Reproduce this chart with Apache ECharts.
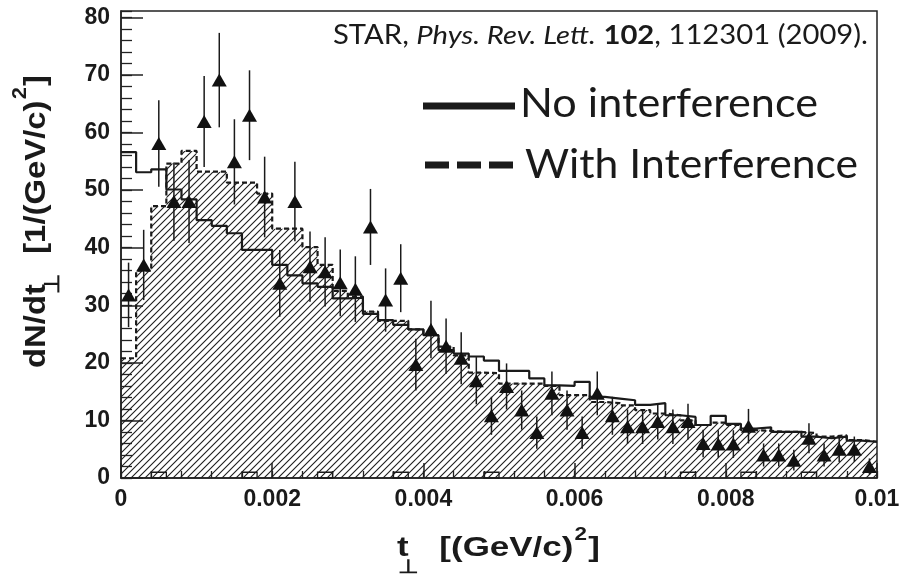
<!DOCTYPE html>
<html><head><meta charset="utf-8">
<script src="https://cdn.jsdelivr.net/npm/echarts@6/dist/echarts.min.js"></script>
<style>html,body{margin:0;padding:0;background:#fff}#c{width:905px;height:581px}</style>
</head><body><div id="c"></div>
<script>
// ---- data (t_perp bins of width 0.0002 from 0 to 0.01) ----
const nBins = 50;
const binWidth = 0.0002;
const binEdges = Array.from({length: nBins + 1}, (_, i) => +(i * binWidth).toFixed(4));
const binCenters = Array.from({length: nBins}, (_, i) => +((i + 0.5) * binWidth).toFixed(5));

const noInterference = [
  56.6, 53.1, 53.6, 50.1, 48.4, 44.8, 43.8, 42.5, 39.6, 39.6,
  37.0, 35.2, 33.8, 33.2, 31.2, 31.3, 28.5, 27.4, 26.6, 25.8,
  24.8, 22.2, 21.6, 21.1, 20.4, 18.6, 18.6, 17.3, 16.1, 16.0,
  16.7, 14.1, 13.8, 13.5, 12.7, 13.0, 10.9, 10.6, 9.2, 10.8,
  9.4, 8.6, 8.8, 8.0, 8.0, 7.2, 6.9, 7.2, 6.5, 6.3
];
const withInterference = [
  20.8, 36.0, 47.2, 54.6, 56.8, 53.2, 53.2, 51.3, 51.3, 49.4,
  43.3, 43.3, 40.1, 37.0, 32.5, 31.5, 28.9, 27.3, 27.3, 25.8,
  24.8, 22.8, 21.3, 18.3, 18.2, 16.4, 16.4, 16.4, 16.0, 14.4,
  14.4, 13.2, 13.0, 12.6, 11.8, 11.2, 10.9, 10.0, 9.2, 9.6,
  9.2, 8.3, 8.2, 8.0, 8.0, 7.8, 7.2, 7.4, 6.6, 6.3
];
const dataValues = [
  31.8, 37.0, 58.1, 48.0, 48.0, 61.9, 69.1, 54.9, 63.0, 48.8,
  33.8, 48.0, 36.7, 35.8, 33.9, 32.8, 43.6, 30.9, 34.7, 19.7,
  25.8, 22.9, 20.8, 16.9, 10.8, 15.9, 11.8, 7.9, 14.7, 11.8,
  7.9, 14.7, 10.8, 8.9, 8.9, 9.8, 8.9, 9.8, 6.0, 5.9,
  5.9, 9.0, 4.0, 4.0, 3.1, 6.9, 4.0, 5.0, 5.0, 2.0
];
const dataErrors = [
  5.6, 6.1, 7.5, 6.8, 7.2, 7.9, 8.2, 7.4, 7.8, 7.0,
  5.8, 6.9, 6.1, 6.0, 5.8, 5.7, 6.6, 5.5, 5.9, 4.5,
  5.0, 4.8, 4.5, 4.1, 3.3, 4.0, 3.4, 2.8, 3.8, 3.4,
  2.8, 3.8, 3.3, 3.0, 3.0, 3.1, 3.0, 3.1, 2.4, 2.4,
  2.4, 3.0, 2.0, 2.0, 1.8, 2.6, 2.0, 2.2, 2.2, 1.4
];
const background = [
  0, 0, 1, 0, 0, 0, 0, 0, 1, 0,
  0, 0, 0, 1, 0, 0, 0, 0, 1, 0,
  0, 0, 0, 0, 1, 0, 0, 0, 0, 0,
  0, 0, 0, 0, 0, 0, 0, 1, 0, 0,
  0, 1, 0, 0, 0, 1, 0, 0, 0, 0
];
const xTickInterval = 0.002, xMinorInterval = 0.0004;
const yTickInterval = 10, yMinorInterval = 2;
const legendNames = ['No interference', 'With Interference'];
const citation = ['STAR, ', 'Phys. Rev. Lett.', ' ', '102', ', 112301 (2009).'];

// ---- helpers ----
const mctx = document.createElement('canvas').getContext('2d');
function mw(text, font) { mctx.font = font; return mctx.measureText(text).width; }
function stepData(vals) {
  const d = vals.map((v, i) => [binEdges[i], v]);
  d.push([binEdges[nBins], vals[nBins - 1]]);
  return d;
}
function makeHatch() {
  const s = 7, c = document.createElement('canvas');
  c.width = s; c.height = s;
  const g = c.getContext('2d');
  g.strokeStyle = '#1e1e1e'; g.lineWidth = 1.1;
  g.beginPath();
  g.moveTo(-1, s + 1); g.lineTo(s + 1, -1);
  g.moveTo(-1, 1); g.lineTo(1, -1);
  g.moveTo(s - 1, s + 1); g.lineTo(s + 1, s - 1);
  g.stroke();
  return c;
}

const INK = '#1a1a1a';
const AXF = '"Liberation Sans", Arial, sans-serif';
const CAL = 'Lato, "Open Sans", sans-serif';

// ---- titles (rich layout, measured) ----
function titleGroup(opts) {
  const {main1, main2, end, F, SF, PF, subDy, supDy, gap, target, x, y, rotation, sy, subUnder} = opts;
  const TF = `bold ${F}px ${AXF}`, SFF = `bold ${SF}px ${AXF}`, PFF = `bold ${PF}px ${AXF}`;
  const w1 = mw(main1, TF), wt = mw('t', TF), wsub = mw('\u22A5', SFF);
  const subX = w1 - wt * subUnder;
  const bX = Math.max(w1, subX + wsub) + gap;
  const wB = mw(main2, TF);
  const supX = bX + wB + 1;
  const wsup = mw('2', PFF);
  const cX = supX + wsup + 1;
  const L = cX + mw(end, TF);
  const s = target / L;
  const mk = (t, xx, yy, font) => ({type: 'text', x: xx, y: yy,
    style: {text: t, font: font, fill: INK, align: 'left', verticalAlign: 'middle'}});
  return {type: 'group', x: x, y: y, rotation: rotation, scaleX: s, scaleY: sy, children: [
    mk(main1, 0, 0, TF), mk('\u22A5', subX, subDy, SFF), mk(main2, bX, 0, TF),
    mk('2', supX, supDy, PFF), mk(end, cX, 0, TF)
  ]};
}

const yTitle = titleGroup({main1: 'dN/dt', main2: '[1/(GeV/c)', end: ']', F: 27, SF: 19, PF: 18,
  subDy: 15, supDy: -15, gap: 16, target: 293, x: 37, y: 368, rotation: Math.PI / 2, sy: 1.1, subUnder: 0.9});
const xTitle = titleGroup({main1: 't', main2: '[(GeV/c)', end: ']', F: 28, SF: 19, PF: 18,
  subDy: 20, supDy: -13, gap: 16, target: 203, x: 397, y: 548, rotation: 0, sy: 1.0, subUnder: 0.9});

// citation
const citeF = 26;
const cf = [`${citeF}px ${CAL}`, `italic ${citeF}px ${CAL}`, `${citeF}px ${CAL}`, `bold ${citeF}px ${CAL}`, `${citeF}px ${CAL}`];
let citeW = 0; citation.forEach((t, i) => citeW += mw(t, cf[i]));
const citeScale = 535 / citeW;

// legend texts
const legF = 41;
const legFont = `${legF}px ${CAL}`;
const leg1Scale = 298 / mw(legendNames[0], legFont);
const leg2Scale = 333 / mw(legendNames[1], legFont);

const chart = echarts.init(document.getElementById('c'), null, {renderer: 'canvas'});
const hatch = makeHatch();

chart.setOption({
  animation: false,
  backgroundColor: '#fff',
  grid: {left: 121, right: 28, top: 11, bottom: 103, show: true, borderColor: '#222', borderWidth: 1.5,
    backgroundColor: 'transparent', outerBoundsMode: 'none'},
  xAxis: [{
    type: 'value', min: 0, max: 0.01, interval: xTickInterval, position: 'bottom',
    axisLine: {show: true, lineStyle: {color: '#222', width: 1.5}},
    axisTick: {show: true, inside: true, length: 15, lineStyle: {color: '#222', width: 1.5}},
    splitLine: {show: false},
    axisLabel: {show: true, margin: 10, color: INK, fontSize: 23, fontWeight: 'bold', fontFamily: AXF,
      formatter: v => (v === 0 ? '0' : String(+v.toFixed(4)))}
  }, {
    type: 'value', min: 0, max: 0.01, interval: xMinorInterval, position: 'bottom', offset: 0,
    axisLine: {show: false}, splitLine: {show: false}, axisLabel: {show: false},
    axisTick: {show: true, inside: true, length: 7, lineStyle: {color: '#222', width: 1.3}}
  }],
  yAxis: [{
    type: 'value', min: 0, max: 81.1, interval: yTickInterval, position: 'left',
    axisLine: {show: true, lineStyle: {color: '#222', width: 1.5}},
    axisTick: {show: true, inside: true, length: 22, lineStyle: {color: '#222', width: 1.5}},
    splitLine: {show: false},
    axisLabel: {show: true, margin: 11, color: INK, fontSize: 23, fontWeight: 'bold', fontFamily: AXF,
      showMaxLabel: false}
  }, {
    type: 'value', min: 0, max: 81.1, interval: yMinorInterval, position: 'left', offset: 0,
    axisLine: {show: false}, splitLine: {show: false}, axisLabel: {show: false},
    axisTick: {show: true, inside: true, length: 11, lineStyle: {color: '#222', width: 1.3}}
  }],
  series: [
    {name: 'hatch', type: 'line', step: 'end', data: stepData(withInterference), symbol: 'none',
      lineStyle: {width: 0, opacity: 0}, areaStyle: {color: {image: hatch, repeat: 'repeat'}, opacity: 1}, z: 1},
    {name: legendNames[0], type: 'line', step: 'end', data: stepData(noInterference), symbol: 'none',
      lineStyle: {width: 2.2, color: INK}, z: 3},
    {name: legendNames[1], type: 'line', step: 'end', data: stepData(withInterference), symbol: 'none',
      lineStyle: {width: 2.2, color: INK, type: [5, 3]}, z: 3},
    {name: 'background', type: 'custom', z: 4,
      data: background.map((v, i) => [binEdges[i], binEdges[i + 1], v]).filter(d => d[2] > 0),
      encode: {x: [0, 1], y: 2},
      renderItem: (params, api) => {
        const p0 = api.coord([api.value(0), 0]);
        const p1 = api.coord([api.value(1), api.value(2)]);
        return {type: 'rect', shape: {x: p0[0], y: p1[1], width: p1[0] - p0[0], height: p0[1] - p1[1]},
          style: {fill: 'none', stroke: INK, lineWidth: 1.3}};
      }},
    {name: 'errors', type: 'custom', z: 5,
      data: binCenters.map((c, i) => [c, dataValues[i], dataErrors[i]]),
      encode: {x: 0, y: 1},
      renderItem: (params, api) => {
        const x = api.value(0), y = api.value(1), e = api.value(2);
        const a = api.coord([x, Math.max(0, y - e)]), b = api.coord([x, y + e]);
        return {type: 'line', shape: {x1: a[0], y1: a[1], x2: b[0], y2: b[1]},
          style: {stroke: INK, lineWidth: 1.5}};
      }},
    {name: 'STAR data', type: 'scatter', z: 6, symbol: 'triangle', symbolSize: [15, 13],
      data: binCenters.map((c, i) => [c, dataValues[i]]),
      itemStyle: {color: '#111', opacity: 1}}
  ],
  graphic: [
    yTitle, xTitle,
    {type: 'text', x: 333, y: 36, scaleX: citeScale, z: 10, style: {
      text: `{n|${citation[0]}}{i|${citation[1]}}{n|${citation[2]}}{b|${citation[3]}}{n|${citation[4]}}`,
      align: 'left', verticalAlign: 'middle', fill: INK,
      rich: {n: {fontFamily: CAL, fontSize: citeF, fill: INK},
             i: {fontFamily: CAL, fontSize: citeF, fontStyle: 'italic', fill: INK},
             b: {fontFamily: CAL, fontSize: citeF, fontWeight: 'bold', fill: INK}}}},
    {type: 'line', z: 10, shape: {x1: 423, y1: 106, x2: 515, y2: 106}, style: {stroke: INK, lineWidth: 7}},
    {type: 'line', z: 10, shape: {x1: 425, y1: 165, x2: 515, y2: 165}, style: {stroke: INK, lineWidth: 7, lineDash: [24, 8]}},
    {type: 'text', x: 520, y: 104, scaleX: leg1Scale, z: 10, style: {text: legendNames[0], font: legFont, fill: INK, align: 'left', verticalAlign: 'middle'}},
    {type: 'text', x: 525, y: 165, scaleX: leg2Scale, z: 10, style: {text: legendNames[1], font: legFont, fill: INK, align: 'left', verticalAlign: 'middle'}}
  ]
});
</script>
</body></html>
